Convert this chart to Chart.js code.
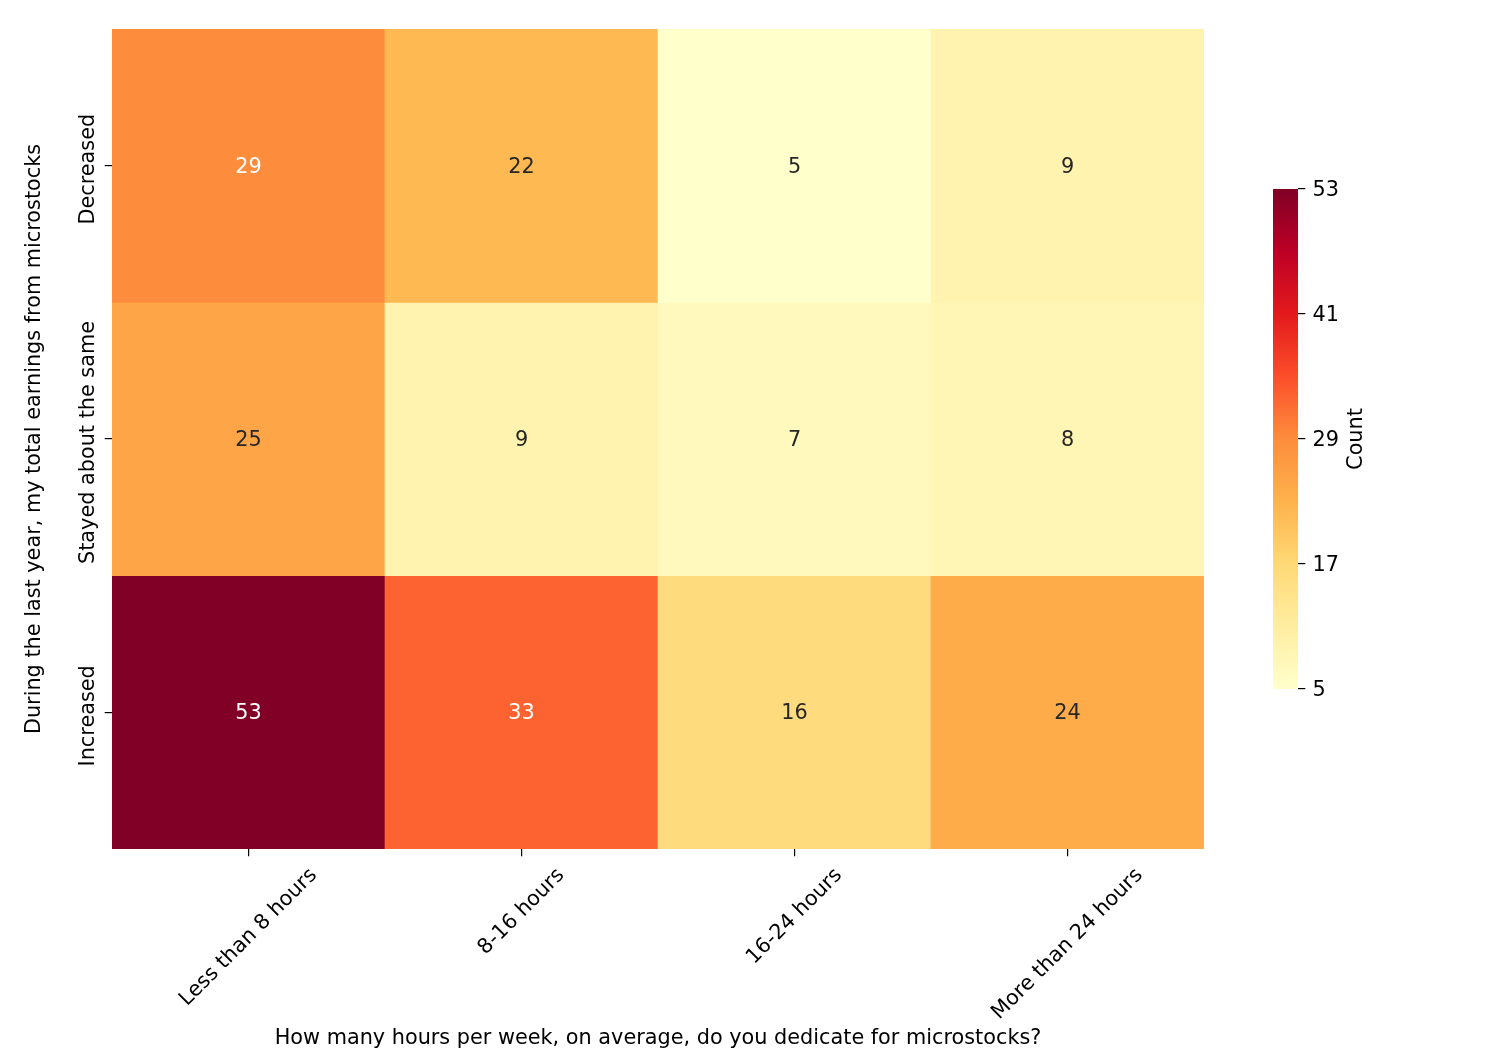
<!DOCTYPE html>
<html>
<head>
<meta charset="utf-8">
<script src="https://cdn.jsdelivr.net/npm/chart.js@4.4.1/dist/chart.umd.min.js"></script>
<style>
  html, body { margin: 0; padding: 0; background: #fff; }
  #wrap { position: relative; width: 1500px; height: 1050px; }
  #wrap canvas { position: absolute; left: 0; top: 0; }
</style>
</head>
<body>
<div id="wrap">
  <canvas id="heat" width="1500" height="1050"></canvas>
  <canvas id="cbar" width="1500" height="1050"></canvas>
</div>
<script>
// data
const hourBins = ['Less than 8 hours', '8-16 hours', '16-24 hours', 'More than 24 hours'];
const earningChanges = ['Decreased', 'Stayed about the same', 'Increased'];
const decreased = [29, 22, 5, 9];
const stayedSame = [25, 9, 7, 8];
const increased = [53, 33, 16, 24];
const colorbarTicks = [5, 17, 29, 41, 53];
const vmin = 5, vmax = 53;

const FONT = "'DejaVu Sans', sans-serif";
const FS = 20.8;

// matplotlib YlOrRd anchor colours
const ylOrRdStops = ['#ffffcc', '#ffeda0', '#fed976', '#feb24c', '#fd8d3c', '#fc4e2a', '#e31a1c', '#bd0026', '#800026'];

function hexRgb(h) {
    return [parseInt(h.slice(1, 3), 16), parseInt(h.slice(3, 5), 16), parseInt(h.slice(5, 7), 16)];
}

function cmapRgb(v) {
    let t = (v - vmin) / (vmax - vmin);
    t = Math.max(0, Math.min(1, t));
    const pos = t * (ylOrRdStops.length - 1);
    const i = Math.min(Math.floor(pos), ylOrRdStops.length - 2);
    const f = pos - i;
    const a = hexRgb(ylOrRdStops[i]), b = hexRgb(ylOrRdStops[i + 1]);
    return a.map((c, k) => Math.round(c + (b[k] - c) * f));
}

function cmap(v) {
    const c = cmapRgb(v);
    return `rgb(${c[0]},${c[1]},${c[2]})`;
}

// seaborn style text colour choice
function annotColor(v) {
    const lum = cmapRgb(v).map(c => {
        c = c / 255;
        return c <= 0.03928 ? c / 12.92 : Math.pow((c + 0.055) / 1.055, 2.4);
    });
    const l = 0.2126 * lum[0] + 0.7152 * lum[1] + 0.0722 * lum[2];
    return l > 0.408 ? '#262626' : '#ffffff';
}

const rows = [decreased, stayedSame, increased];

const heatLabels = {
    id: 'heatLabels',
    afterDatasetsDraw(chart) {
        const ctx = chart.ctx;
        ctx.save();
        ctx.font = `${FS}px ${FONT}`;
        ctx.textAlign = 'center';
        ctx.textBaseline = 'middle';
        chart.data.datasets.forEach((ds, di) => {
            chart.getDatasetMeta(di).data.forEach((el, i) => {
                const v = ds.counts[i];
                ctx.fillStyle = annotColor(v);
                ctx.fillText(String(v), el.x, (el.y + el.base) / 2 + 1.5);
            });
        });
        ctx.restore();
    },
    afterDraw(chart) {
        const ctx = chart.ctx;
        const xs = chart.scales.x, ys = chart.scales.y;
        const area = chart.chartArea;
        ctx.save();
        ctx.font = `${FS}px ${FONT}`;
        ctx.fillStyle = '#000';

        // x tick labels, rotated 45, bbox centred on tick
        const top = area.bottom + 7.3 + 7.3;
        hourBins.forEach((lab, i) => {
            const px = xs.getPixelForTick(i);
            const w = ctx.measureText(lab).width;
            const h = (w + FS * 1.16) * Math.SQRT1_2;
            ctx.save();
            ctx.translate(px, top + h / 2);
            ctx.rotate(-Math.PI / 4);
            ctx.textAlign = 'center';
            ctx.textBaseline = 'middle';
            ctx.fillText(lab, 0, 0);
            ctx.restore();
        });

        // y tick labels, vertical
        earningChanges.forEach((lab, r) => {
            const py = ys.getPixelForValue(r + 0.5);
            ctx.save();
            ctx.translate(area.left - 7.3 - 7.3 - 3.5, py + 3.5);
            ctx.rotate(-Math.PI / 2);
            ctx.textAlign = 'center';
            ctx.textBaseline = 'alphabetic';
            ctx.fillText(lab, 0, 0);
            ctx.restore();
        });

        // axis titles
        ctx.textAlign = 'center';
        ctx.textBaseline = 'middle';
        ctx.fillText('How many hours per week, on average, do you dedicate for microstocks?',
            (area.left + area.right) / 2, 1039);
        ctx.save();
        ctx.translate(35, (area.top + area.bottom) / 2);
        ctx.rotate(-Math.PI / 2);
        ctx.fillText('During the last year, my total earnings from microstocks', 0, 0);
        ctx.restore();
        ctx.restore();
    }
};

new Chart(document.getElementById('heat'), {
    type: 'bar',
    data: {
        labels: hourBins,
        datasets: rows.map((vals, r) => ({
            label: earningChanges[r],
            data: vals.map(() => [r, r + 1]),
            counts: vals,
            backgroundColor: vals.map(cmap),
            borderWidth: 0,
            grouped: false,
            barPercentage: 1,
            categoryPercentage: 1
        }))
    },
    options: {
        responsive: false,
        animation: false,
        devicePixelRatio: 1,
        layout: { padding: { left: 0, top: 29, right: 296, bottom: 0 } },
        plugins: { legend: { display: false }, tooltip: { enabled: false } },
        scales: {
            x: {
                type: 'category',
                offset: true,
                border: { display: false },
                grid: { offset: false, drawOnChartArea: false, drawTicks: true, tickLength: 7.3, color: '#000', lineWidth: 1.2 },
                ticks: { display: false },
                afterFit: s => { s.height = 1050 - 849; }
            },
            y: {
                type: 'linear',
                min: 0,
                max: 3,
                reverse: true,
                border: { display: false },
                grid: { drawOnChartArea: false, drawTicks: true, tickLength: 7.3, color: '#000', lineWidth: 1.2 },
                ticks: { display: false },
                afterBuildTicks: s => { s.ticks = earningChanges.map((_, r) => ({ value: r + 0.5 })); },
                afterFit: s => { s.width = 112; }
            }
        }
    },
    plugins: [heatLabels]
});

// colour bar
const cbarTitle = {
    id: 'cbarTitle',
    afterDraw(chart) {
        const ctx = chart.ctx;
        const a = chart.chartArea;
        ctx.save();
        ctx.font = `${FS}px ${FONT}`;
        ctx.fillStyle = '#000';
        ctx.translate(1357, (a.top + a.bottom) / 2);
        ctx.rotate(-Math.PI / 2);
        ctx.textAlign = 'center';
        ctx.textBaseline = 'middle';
        ctx.fillText('Count', 0, 0);
        ctx.restore();
    }
};

new Chart(document.getElementById('cbar'), {
    type: 'bar',
    data: {
        labels: ['Count'],
        datasets: [{
            data: [[vmin, vmax]],
            borderWidth: 0,
            barPercentage: 1,
            categoryPercentage: 1,
            backgroundColor: ctx => {
                const a = ctx.chart.chartArea;
                if (!a) return null;
                const g = ctx.chart.ctx.createLinearGradient(0, a.bottom, 0, a.top);
                ylOrRdStops.forEach((c, i) => g.addColorStop(i / (ylOrRdStops.length - 1), c));
                return g;
            }
        }]
    },
    options: {
        responsive: false,
        animation: false,
        devicePixelRatio: 1,
        layout: { padding: { left: 1273, top: 189, right: 1500 - 1298 - 70, bottom: 1050 - 689 } },
        plugins: { legend: { display: false }, tooltip: { enabled: false } },
        scales: {
            x: { display: false },
            y: {
                position: 'right',
                min: vmin,
                max: vmax,
                border: { display: false },
                grid: { drawOnChartArea: false, drawTicks: true, tickLength: 7.3, color: '#000', lineWidth: 1.2 },
                ticks: {
                    color: '#000',
                    padding: 7.3,
                    labelOffset: 1.5,
                    font: { family: FONT, size: FS }
                },
                afterBuildTicks: s => { s.ticks = colorbarTicks.map(v => ({ value: v })); },
                afterFit: s => { s.width = 70; }
            }
        }
    },
    plugins: [cbarTitle]
});
</script>
</body>
</html>
